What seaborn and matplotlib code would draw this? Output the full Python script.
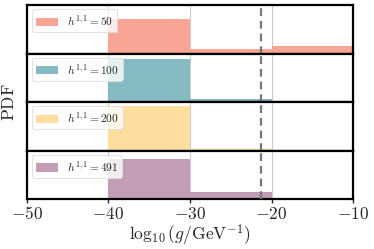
import numpy as np
import pandas as pd
import seaborn as sns
import matplotlib
matplotlib.use("Agg")
import matplotlib.pyplot as plt

sns.set_style("white")
plt.rcParams["mathtext.fontset"] = "cm"
plt.rcParams["font.family"] = ["DejaVu Serif"]

bin_edges = [-40, -30, -20, -10]
bin_centers = [-35, -25, -15]
h11_values = [50, 100, 200, 491]
pdf_h50 = [0.0730, 0.0089, 0.0156]
pdf_h100 = [0.0915, 0.0062, 0.0010]
pdf_h200 = [0.0955, 0.0040, 0.0000]
pdf_h491 = [0.0862, 0.0156, 0.0000]
pdfs = [pdf_h50, pdf_h100, pdf_h200, pdf_h491]
colors = ["#F8A596", "#86BAC3", "#FEDE9F", "#C39DB5"]
g_bound = -21.3
xticks = [-50, -40, -30, -20, -10]

fig, axes = plt.subplots(4, 1, figsize=(3.74, 2.49), dpi=100, sharex=True, sharey=True)
fig.subplots_adjust(left=0.072, right=0.944, top=0.98, bottom=0.2, hspace=0)

for ax, h, pdf, c in zip(axes, h11_values, pdfs, colors):
    df = pd.DataFrame({"x": bin_centers, "w": pdf})
    sns.histplot(data=df, x="x", weights="w", bins=bin_edges, stat="count",
                 color=c, alpha=1.0, linewidth=0, ax=ax,
                 label=r"$h^{1,1} = %d$" % h)
    for xv in [-40, -30, -20]:
        ax.axvline(xv, color="#cccccc", lw=0.8, zorder=0.5)
    ax.axvline(g_bound, color="#777777", lw=1.6, ls=(0, (3.5, 2.2)), zorder=3)
    ax.set_xlim(-50, -10)
    ax.set_ylim(0, 0.104)
    ax.set_yticks([])
    ax.set_ylabel("")
    ax.set_xlabel("")
    for s in ax.spines.values():
        s.set_color("black")
        s.set_linewidth(1.6)
    leg = ax.legend(loc="upper left", fontsize=8.2, frameon=True, fancybox=True,
                    handlelength=1.9, handleheight=0.75, borderpad=0.35,
                    handletextpad=0.8,
                    bbox_to_anchor=(0.005, 0.98), borderaxespad=0.3)
    leg.get_frame().set_edgecolor("#dddddd")
    leg.get_frame().set_linewidth(0.8)
    leg.get_frame().set_alpha(0.8)

axes[-1].set_xticks(xticks)
axes[-1].set_xticklabels([r"$%d$" % v for v in xticks], fontsize=12.5)
axes[-1].tick_params(axis="x", direction="out", length=3, width=1, bottom=True, pad=2)
axes[-1].set_xlabel(r"$\log_{10}(g/\mathrm{GeV}^{-1})$", fontsize=12.5, labelpad=0)
fig.text(0.025, 0.59, r"$\mathrm{PDF}$", rotation=90, fontsize=12.5, va="center", ha="center")

fig.savefig("out.png", dpi=100)
